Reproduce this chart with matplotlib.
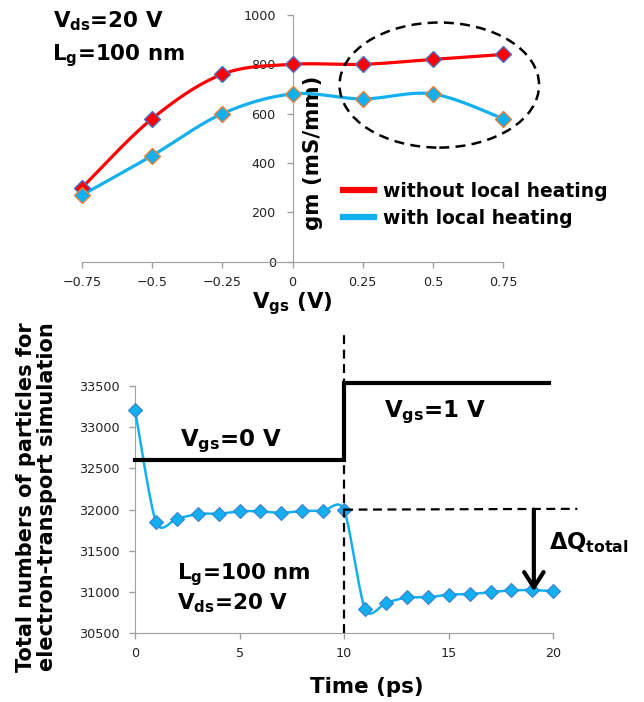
import numpy as np
import matplotlib
matplotlib.use("Agg")
import matplotlib.pyplot as plt
from matplotlib.lines import Line2D
from matplotlib.patches import Ellipse, FancyArrowPatch

plt.rcParams['font.family'] = ['DejaVu Sans']
plt.rcParams['mathtext.fontset'] = 'dejavusans'

# ---------------- data ----------------
vgs = [-0.75, -0.5, -0.25, 0, 0.25, 0.5, 0.75]
gm_without = [300, 580, 760, 800, 800, 820, 840]
gm_with = [270, 430, 600, 680, 660, 680, 580]
gm_ticks = [0, 200, 400, 600, 800, 1000]
vgs_ticks = [-0.75, -0.5, -0.25, 0, 0.25, 0.5, 0.75]
vgs_ticklabels = ['\u22120.75', '\u22120.5', '\u22120.25', '0', '0.25', '0.5', '0.75']
legend_labels = ['without local heating', 'with local heating']

time_ps = list(range(0, 21))
particles = [33210, 31850, 31890, 31950, 31950, 31980, 31980, 31960, 31985, 31985,
             31995, 30790, 30870, 30935, 30935, 30970, 30975, 31000, 31020, 31025, 31010]
time_ticks = [0, 5, 10, 15, 20]
particle_ticks = [30500, 31000, 31500, 32000, 32500, 33000, 33500]

# gate-voltage step (annotation)
step_t = [0, 10, 10, 19.8]
step_v = [32600, 32600, 33540, 33540]
switch_t = 10
switch_v = [30500, 34120]
ref_t = [10, 21.15]
ref_v = [32000, 32010]
arrow_t = 19.07
arrow_v = [32000, 31010]

# ellipse highlighting region (data coords of top chart)
ell_center = (0.523, 716)
ell_w, ell_h = 0.711, 507


def smooth(x, y, n=40, k=0.15):
    pts = np.column_stack([np.asarray(x, float), np.asarray(y, float)])
    P = np.vstack([pts[0], pts, pts[-1]])
    out = []
    for i in range(len(pts) - 1):
        p0, p1, p2, p3 = P[i], P[i + 1], P[i + 2], P[i + 3]
        c1 = p1 + (p2 - p0) * k
        c2 = p2 - (p3 - p1) * k
        t = np.linspace(0, 1, n)[:, None]
        seg = (1 - t) ** 3 * p1 + 3 * (1 - t) ** 2 * t * c1 + 3 * (1 - t) * t ** 2 * c2 + t ** 3 * p2
        out.append(seg if i == 0 else seg[1:])
    s = np.vstack(out)
    return s[:, 0], s[:, 1]


W, H = 644, 702
fig = plt.figure(figsize=(W / 100, H / 100), dpi=100)


def fx(px):
    return px / W


def fy(py):
    return 1 - py / H


RED = '#ff0000'
BLUE = '#12b0ee'
TICKC = '#222222'
SPINEC = '#a0a0a0'

# ---------------- top chart ----------------
ax1 = fig.add_axes([fx(82), fy(261.7), (503 - 82) / W, (261.7 - 15) / H])
ax1.set_xlim(-0.75, 0.75)
ax1.set_ylim(0, 1000)

sx, sy = smooth(vgs, gm_without, k=1 / 6)
ax1.plot(sx, sy, color=RED, lw=2.3, zorder=3, clip_on=False)
ax1.plot(vgs, gm_without, ls='none', marker='D', ms=8.5, mfc=RED, mec='#4a6fc4', mew=1.0,
         zorder=4, clip_on=False)
sx, sy = smooth(vgs, gm_with, k=1 / 6)
ax1.plot(sx, sy, color=BLUE, lw=2.3, zorder=3, clip_on=False)
ax1.plot(vgs, gm_with, ls='none', marker='D', ms=8.5, mfc=BLUE, mec='#ed7d31', mew=1.0,
         zorder=4, clip_on=False)

ax1.add_patch(Ellipse(ell_center, ell_w, ell_h, fill=False, ls=(0, (4, 2.5)), lw=1.8,
                      color='black', clip_on=False, zorder=5))

for s in ['top', 'right']:
    ax1.spines[s].set_visible(False)
ax1.spines['left'].set_position(('data', 0))
ax1.spines['left'].set_color(SPINEC)
ax1.spines['bottom'].set_color(SPINEC)
ax1.set_xticks(vgs_ticks)
ax1.set_xticklabels(vgs_ticklabels)
ax1.set_yticks(gm_ticks)
ax1.tick_params(axis='both', colors=SPINEC, labelcolor=TICKC, labelsize=9.2, length=4, width=1,
                direction='out')
ax1.tick_params(axis='x', pad=6)
ax1.tick_params(axis='y', pad=8)
ax1.patch.set_alpha(0)

xl = ax1.set_xlabel(r'V$_{\mathbf{gs}}$ (V)', fontsize=15.4, fontweight='bold')
ax1.xaxis.set_label_coords(0.5, (261.7 - 308) / 246.7)
xl.set_va('baseline')
ax1.set_ylabel('gm (mS/mm)', fontsize=15.4, fontweight='bold')
ax1.yaxis.set_label_coords((323 - 82) / 421, (261.7 - 153) / 246.7)

handles = [Line2D([], [], color=RED, lw=4.5), Line2D([], [], color=BLUE, lw=4.5)]
ax1.legend(handles, legend_labels, loc='upper left', bbox_to_anchor=(fx(343), fy(182)),
           bbox_transform=fig.transFigure, frameon=False, borderpad=0, borderaxespad=0,
           handlelength=1.65, handletextpad=0.5, labelspacing=0.42,
           prop={'weight': 'bold', 'size': 13.5})

fig.text(fx(52.7), fy(27.3), r'V$_{\mathbf{ds}}$=20 V', fontsize=15.4, fontweight='bold',
         ha='left', va='baseline')
fig.text(fx(51.7), fy(60.7), r'L$_{\mathbf{g}}$=100 nm', fontsize=15.4, fontweight='bold',
         ha='left', va='baseline')

# ---------------- bottom chart ----------------
ax2 = fig.add_axes([fx(135), fy(633.3), (553.3 - 135) / W, (633.3 - 386) / H])
ax2.set_xlim(0, 20)
ax2.set_ylim(30500, 33500)

sx, sy = smooth(time_ps, particles, k=0.13)
ax2.plot(sx, sy, color=BLUE, lw=1.8, zorder=3, clip_on=False)
ax2.plot(time_ps, particles, ls='none', marker='D', ms=7.5, mfc=BLUE, mec='#3f7fd0', mew=0.8,
         zorder=4, clip_on=False)

ax2.plot(step_t, step_v, color='black', lw=3, zorder=5, clip_on=False, solid_joinstyle='miter')
ax2.plot([switch_t, switch_t], switch_v, color='black', lw=1.6, ls=(0, (4, 2.5)), zorder=5,
         clip_on=False)
ax2.plot(ref_t, ref_v, color='black', lw=1.6, ls=(0, (4, 2.5)), zorder=5, clip_on=False)
ax2.add_patch(FancyArrowPatch((arrow_t, arrow_v[0]), (arrow_t, arrow_v[1]),
                              arrowstyle='->,head_length=0.55,head_width=0.35',
                              mutation_scale=20, lw=3, color='black', zorder=6,
                              clip_on=False, shrinkA=0, shrinkB=0))

for s in ['top', 'right']:
    ax2.spines[s].set_visible(False)
ax2.spines['left'].set_color(SPINEC)
ax2.spines['bottom'].set_color(SPINEC)
ax2.set_xticks(time_ticks)
ax2.set_yticks(particle_ticks)
ax2.tick_params(axis='both', colors=SPINEC, labelcolor=TICKC, labelsize=9.2, length=4, width=1,
                direction='out')
ax2.tick_params(axis='x', pad=6)
ax2.tick_params(axis='y', pad=7)
ax2.patch.set_alpha(0)

xl2 = ax2.set_xlabel('Time (ps)', fontsize=15.4, fontweight='bold')
ax2.xaxis.set_label_coords((367 - 135) / 418.3, (633.3 - 692.7) / 247.3)
xl2.set_va('baseline')
yl2 = ax2.set_ylabel('Total numbers of particles for\nelectron-transport simulation',
                     fontsize=15, fontweight='bold', linespacing=1.05)
ax2.yaxis.set_label_coords((57 - 135) / 418.3, (633.3 - 497) / 247.3)

fig.text(fx(180), fy(446), r'V$_{\mathbf{gs}}$=0 V', fontsize=16.5, fontweight='bold',
         ha='left', va='baseline')
fig.text(fx(384), fy(416.7), r'V$_{\mathbf{gs}}$=1 V', fontsize=16.5, fontweight='bold',
         ha='left', va='baseline')
fig.text(fx(177.3), fy(579), r'L$_{\mathbf{g}}$=100 nm', fontsize=15.5, fontweight='bold',
         ha='left', va='baseline')
fig.text(fx(177.3), fy(609.3), r'V$_{\mathbf{ds}}$=20 V', fontsize=15.5, fontweight='bold',
         ha='left', va='baseline')
fig.text(fx(549), fy(549.3), r'$\mathbf{\Delta}$Q$_{\mathbf{total}}$', fontsize=16.3,
         fontweight='bold', ha='left', va='baseline')

fig.savefig('out.png', dpi=100)
